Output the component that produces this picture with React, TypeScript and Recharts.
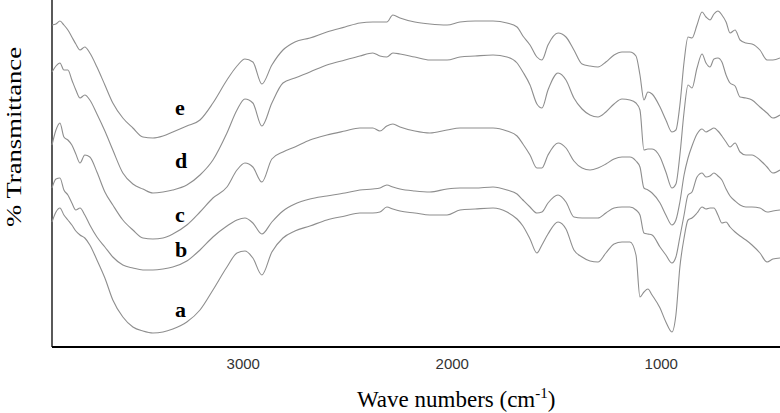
import { LineChart, Line, XAxis, YAxis, ReferenceDot, ReferenceLine } from "recharts";

// wavenumber grid (cm-1)
const WAVENUMBERS = [
  3915, 3896, 3877, 3858, 3839, 3820, 3801, 3781, 3758, 3734,
  3700, 3662, 3624, 3576, 3528, 3480, 3432, 3384, 3337, 3270,
  3207, 3145, 3078, 3030, 2992, 2954, 2911, 2863, 2810, 2753,
  2681, 2600, 2513, 2442, 2380, 2346, 2313, 2284, 2250, 2179,
  2107, 2025, 1963, 1891, 1805, 1738, 1690, 1662, 1628, 1595,
  1571, 1542, 1494, 1456, 1418, 1379, 1341, 1303, 1265, 1226,
  1188, 1150, 1121, 1102, 1083, 1064, 1044, 1006, 978, 949,
  930, 911, 891, 872, 853, 829, 805, 786, 767, 748,
  729, 710, 690, 671, 647, 623, 595, 566, 528, 494,
  466, 432,
];

// stacked transmittance, arbitrary units (offset per sample)
const SPECTRUM_E = [
  322, 323, 326, 322, 317, 310, 303, 297, 300, 294,
  280, 262, 244, 229, 219, 210, 209, 211, 215, 221,
  227, 244, 267, 281, 288, 285, 263, 282, 297, 305,
  309, 315, 320, 324, 325, 325, 325, 332, 329, 325,
  323, 322, 325, 326, 326, 324, 320, 311, 302, 290,
  287, 302, 314, 310, 297, 283, 281, 280, 285, 292,
  295, 295, 291, 272, 247, 255, 253, 240, 227, 215,
  217, 242, 285, 310, 309, 322, 335, 330, 327, 333,
  336, 332, 325, 314, 317, 307, 304, 303, 297, 287,
  287, 289,
];
const SPECTRUM_D = [
  275, 281, 284, 277, 277, 267, 257, 249, 252, 247,
  233, 216, 197, 174, 163, 158, 154, 155, 157, 162,
  172, 187, 214, 237, 248, 244, 221, 244, 264, 269,
  275, 282, 287, 291, 294, 291, 290, 294, 293, 290,
  287, 287, 290, 291, 292, 290, 284, 275, 262, 243,
  239, 257, 274, 267, 249, 238, 232, 230, 235, 243,
  248, 247, 244, 237, 197, 198, 198, 190, 175, 159,
  163, 192, 235, 262, 259, 279, 293, 284, 280, 288,
  289, 285, 272, 264, 261, 250, 249, 247, 240, 234,
  229, 232,
];
const SPECTRUM_C = [
  202, 217, 224, 210, 207, 202, 193, 184, 192, 190,
  175, 155, 142, 127, 117, 109, 108, 109, 113, 122,
  135, 149, 160, 177, 184, 180, 165, 188, 195, 200,
  207, 212, 216, 219, 219, 216, 221, 223, 220, 216,
  214, 217, 219, 219, 219, 216, 211, 203, 192, 179,
  179, 192, 204, 199, 186, 179, 177, 179, 183, 188,
  190, 190, 186, 180, 159, 157, 154, 144, 132, 122,
  127, 145, 172, 189, 201, 213, 218, 215, 217, 219,
  216, 211, 205, 200, 204, 195, 192, 192, 187, 180,
  174, 177,
];
const SPECTRUM_B = [
  159, 168, 169, 157, 152, 144, 137, 139, 132, 122,
  110, 100, 90, 82, 79, 77, 77, 78, 80, 86,
  97, 110, 121, 127, 129, 124, 113, 125, 136, 143,
  148, 151, 154, 157, 158, 159, 162, 160, 158, 156,
  155, 158, 159, 159, 160, 157, 153, 147, 140, 134,
  135, 144, 152, 145, 130, 129, 129, 129, 134, 139,
  140, 140, 137, 132, 114, 113, 112, 100, 92, 84,
  90, 110, 132, 152, 155, 170, 174, 170, 171, 174,
  171, 167, 158, 151, 146, 142, 140, 140, 139, 135,
  136, 137,
];
const SPECTRUM_A = [
  125, 135, 139, 132, 127, 122, 116, 112, 109, 102,
  87, 69, 47, 30, 20, 16, 14, 15, 18, 25,
  37, 57, 80, 94, 96, 89, 72, 95, 109, 116,
  121, 127, 131, 134, 134, 135, 140, 138, 136, 134,
  132, 132, 137, 138, 139, 135, 128, 121, 108, 94,
  102, 113, 125, 118, 97, 90, 86, 85, 94, 103,
  105, 105, 92, 50, 55, 58, 52, 39, 25, 15,
  32, 80, 109, 127, 129, 134, 140, 138, 139, 139,
  132, 124, 125, 120, 115, 111, 107, 102, 94, 85,
  88, 89,
];

const X_TICKS = [3000, 2000, 1000];
const X_DOMAIN = [432, 3915];
const SERIES = ["a", "b", "c", "d", "e"];
// where each curve's letter sits (wavenumber, transmittance)
const LABEL_WAVE = 3327;
const LABEL_T = [30, 90, 125, 179, 232];

const data = WAVENUMBERS.map((w, i) => ({
  w,
  a: SPECTRUM_A[i],
  b: SPECTRUM_B[i],
  c: SPECTRUM_C[i],
  d: SPECTRUM_D[i],
  e: SPECTRUM_E[i],
}));

const LINE_COLOR = "#8e8e8e";
const serif = "'Liberation Serif', 'Times New Roman', serif";

// both axis titles, drawn at fixed spots in the svg
const AxisTitles = () => (
  <g>
    <text x={357} y={407} fill="#000" fontSize={23} fontFamily={serif}>
      Wave numbers (cm
      <tspan dy={-9} fontSize={15}>-1</tspan>
      <tspan dy={9}>)</tspan>
    </text>
    <text
      x={21}
      y={137}
      transform="rotate(-90 21 137)"
      textAnchor="middle"
      fill="#000"
      fontSize={20}
      fontFamily={serif}
      textLength={180}
      lengthAdjust="spacingAndGlyphs"
    >
      % Transmittance
    </text>
  </g>
);

export default function App() {
  return (
    <div style={{ position: "absolute", left: 0, top: 0 }}>
      <LineChart
        width={780}
        height={413}
        data={data}
        margin={{ top: 0, right: 0, bottom: 0, left: 52 }}
      >
        <XAxis
          dataKey="w"
          type="number"
          domain={X_DOMAIN}
          reversed
          ticks={X_TICKS}
          tickLine={false}
          tickMargin={5}
          height={66}
          axisLine={{ stroke: "#000", strokeWidth: 2 }}
          tick={{ fill: "#333", fontSize: 15, fontFamily: "'Liberation Sans', Arial, sans-serif" }}
          label={{ content: () => <AxisTitles /> }}
        />
        <YAxis type="number" domain={[0, 347]} hide />
        <ReferenceLine x={X_DOMAIN[1]} stroke="#000" strokeWidth={1.3} />
        {SERIES.map((key) => (
          <Line
            key={key}
            dataKey={key}
            type="monotone"
            stroke={LINE_COLOR}
            strokeWidth={1.1}
            dot={false}
            isAnimationActive={false}
          />
        ))}
        {SERIES.map((key, i) => (
          <ReferenceDot
            key={`lbl-${key}`}
            x={LABEL_WAVE}
            y={LABEL_T[i]}
            r={0}
            shape={(p: any) => (
              <text
                x={p.cx}
                y={p.cy}
                fontSize={22}
                fontWeight="bold"
                fontFamily={serif}
                fill="#000"
              >
                {key}
              </text>
            )}
          />
        ))}
      </LineChart>
    </div>
  );
}
